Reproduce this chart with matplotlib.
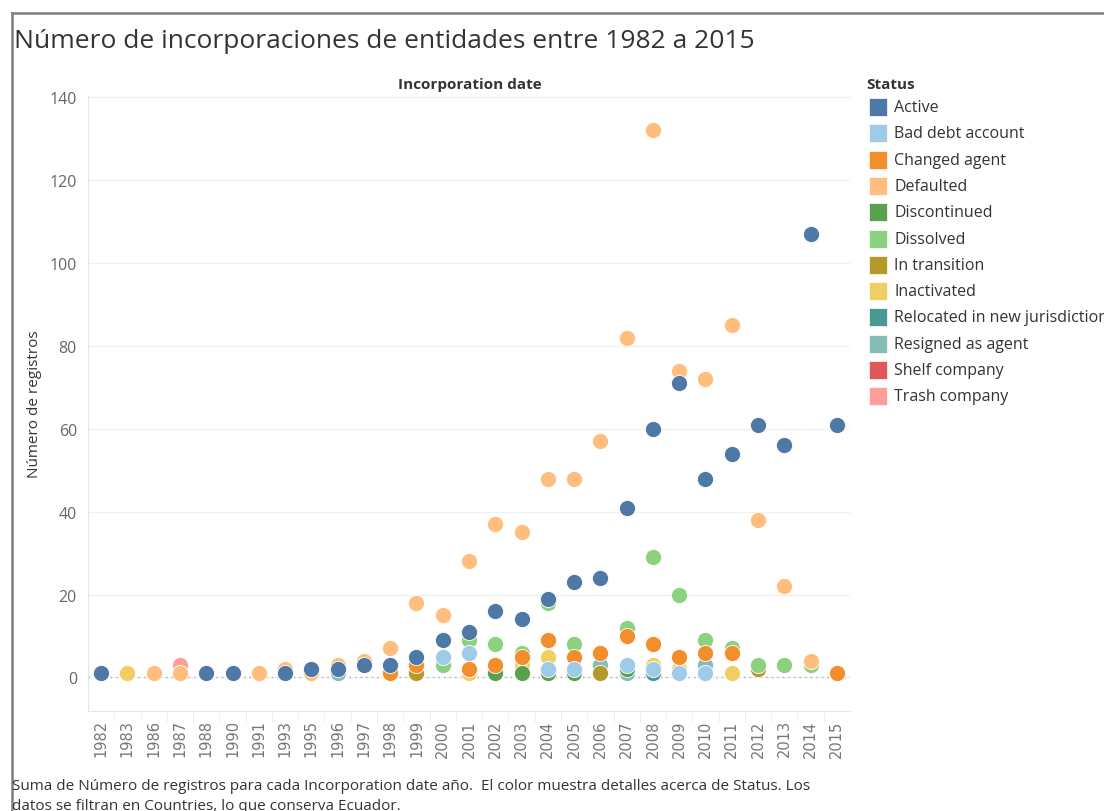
import matplotlib
matplotlib.use("Agg")
import matplotlib.pyplot as plt
from matplotlib.lines import Line2D
from matplotlib.patches import Rectangle

plt.rcParams['font.family'] = ['Open Sans', 'DejaVu Sans']

years = ['1982', '1983', '1986', '1987', '1988', '1990', '1991', '1993', '1995', '1996',
         '1997', '1998', '1999', '2000', '2001', '2002', '2003', '2004', '2005', '2006',
         '2007', '2008', '2009', '2010', '2011', '2012', '2013', '2014', '2015']

N = None
# one value per year (None = no record for that status)
active       = [1, N, N, N, 1, 1, N, 1, 2, 2, 3, 3, 5, 9, 11, 16, 14, 19, 23, 24, 41, 60, 71, 48, 54, 61, 56, 107, 61]
bad_debt     = [N, N, N, N, N, N, N, N, N, N, N, N, N, 5, 6, N, N, 2, 2, N, 3, 2, 1, 1, N, N, N, N, N]
changed      = [N, N, N, N, N, N, N, N, N, N, N, 1, 3, N, 2, 3, 5, 9, 5, 6, 10, 8, 5, 6, 6, N, N, N, 1]
defaulted    = [N, N, 1, 1, N, N, 1, 2, 1, 3, 4, 7, 18, 15, 28, 37, 35, 48, 48, 57, 82, 132, 74, 72, 85, 38, 22, 4, N]
discontinued = [N, N, N, N, N, N, N, N, N, N, N, N, N, N, N, 1, 1, 1, 1, N, 2, N, N, N, N, N, N, N, N]
dissolved    = [N, N, N, N, N, N, N, N, N, N, N, N, N, 3, 9, 8, 6, 18, 8, N, 12, 29, 20, 9, 7, 3, 3, 3, N]
in_transit   = [N, N, N, N, N, N, N, N, N, N, N, N, 1, N, N, N, N, N, N, 1, N, N, N, N, N, 2, N, N, N]
inactivated  = [N, 1, N, N, N, N, N, N, N, N, N, N, N, N, 1, N, 3, 5, N, N, N, 3, 2, N, 1, N, N, N, N]
relocated    = [N, N, N, N, N, N, N, N, N, N, N, N, N, N, N, N, N, N, N, N, N, 1, N, N, N, N, N, N, N]
resigned     = [N, N, N, N, N, N, N, N, N, 1, N, N, N, N, N, N, N, N, N, 3, 1, N, N, 3, N, N, N, N, N]
shelf        = [N] * len(years)
trash        = [N, N, N, 3, N, N, N, N, N, N, N, N, N, N, N, N, N, N, N, N, N, N, N, N, N, N, N, N, N]

status_names = ['Active', 'Bad debt account', 'Changed agent', 'Defaulted', 'Discontinued',
                'Dissolved', 'In transition', 'Inactivated', 'Relocated in new jurisdiction',
                'Resigned as agent', 'Shelf company', 'Trash company']
status_values = [active, bad_debt, changed, defaulted, discontinued, dissolved,
                 in_transit, inactivated, relocated, resigned, shelf, trash]
colors = ['#4e79a7', '#a0cbe8', '#f28e2b', '#ffbe7d', '#59a14f', '#8cd17d',
          '#b6992d', '#f1ce63', '#499894', '#86bcb6', '#e15759', '#ff9d9a']

fig = plt.figure(figsize=(11.04, 8.12), dpi=100)
ax = fig.add_axes([88 / 1104, 100 / 812, 762 / 1104, 615 / 812])

# first status in the legend ends up on top
for k in range(len(status_names) - 1, -1, -1):
    xs = [i for i, v in enumerate(status_values[k]) if v is not None]
    ys = [v for v in status_values[k] if v is not None]
    if xs:
        ax.scatter(xs, ys, s=135, color=colors[k], edgecolor='white', linewidth=0.6,
                   zorder=3 + (len(status_names) - k) * 0.01)

ax.set_xlim(-0.5, len(years) - 0.5)
ax.set_ylim(-8.1, 140.3)
ax.set_yticks(range(0, 141, 20))
ax.set_xticks(range(len(years)))
ax.set_xticklabels(years, rotation=90, fontsize=10.5, color='#777777', family='DejaVu Sans')
ax.set_xticks([i + 0.5 for i in range(len(years) - 1)], minor=True)
ax.tick_params(axis='x', which='major', length=0, pad=6)
ax.tick_params(axis='x', which='minor', length=8, color='#ececec')
ax.tick_params(axis='y', length=0, labelsize=11.5, labelcolor='#666666', pad=8)

ax.grid(axis='y', color='#f0f0f0', linewidth=1)
ax.axhline(0, color='#aaaaaa', linestyle=(0, (1, 3)), linewidth=1, zorder=2)
for side in ['top', 'right']:
    ax.spines[side].set_visible(False)
ax.spines['left'].set_color('#e6e6e6')
ax.spines['bottom'].set_color('#e6e6e6')

ax.set_ylabel('Número de registros', fontsize=11, color='#333333')
ax.yaxis.set_label_coords(-0.060, 0.5)

fig.text(470 / 1104, 1 - 85 / 812, 'Incorporation date', ha='center', va='center',
         fontsize=11, fontweight='bold', color='#333333')

fig.text(14 / 1104, 1 - 42 / 812, 'Número de incorporaciones de entidades entre 1982 a 2015',
         ha='left', va='center', fontsize=19, color='#333333')

# outer frame
fig.add_artist(Line2D([12 / 1104, 1], [1 - 14 / 812, 1 - 14 / 812], color='#7f7f7f', linewidth=1.8))
fig.add_artist(Line2D([12 / 1104, 12 / 1104], [0, 1 - 14 / 812], color='#7f7f7f', linewidth=1.8))

# legend
fig.text(866 / 1104, 1 - 85 / 812, 'Status', ha='left', va='center', fontsize=11,
         fontweight='bold', color='#333333')
for k, name in enumerate(status_names):
    yc = 108 + k * 26.3
    fig.add_artist(Rectangle((869 / 1104, 1 - (yc + 9) / 812), 18 / 1104, 18 / 812,
                             facecolor=colors[k], edgecolor='white', linewidth=0.5))
    fig.text(894 / 1104, 1 - yc / 812, name, ha='left', va='center', fontsize=11.5,
             color='#333333')

fig.text(12 / 1104, 1 - 787 / 812,
         'Suma de Número de registros para cada Incorporation date año.  El color muestra detalles acerca de Status. Los',
         ha='left', va='center', fontsize=11, color='#333333')
fig.text(12 / 1104, 1 - 807 / 812, 'datos se filtran en Countries, lo que conserva Ecuador.',
         ha='left', va='center', fontsize=11, color='#333333')

fig.savefig('out.png', dpi=100)
